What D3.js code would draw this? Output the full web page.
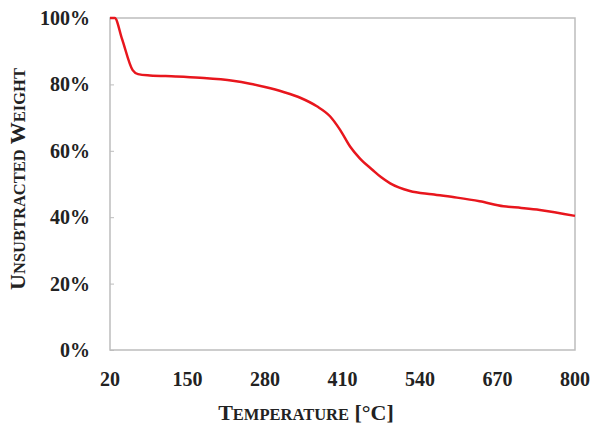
<!DOCTYPE html>
<html>
<head>
<meta charset="utf-8">
<style>
  body { margin: 0; background: #fff; }
  text { font-family: "Liberation Serif", "Times New Roman", serif; font-weight: bold; fill: #222; }
</style>
</head>
<body>
<svg width="595" height="432"></svg>
<script src="https://d3js.org/d3.v7.min.js"></script>
<script>

// temperature (°C) and unsubtracted weight (%)
var temps   = [20, 28, 40, 58, 67, 87, 130, 171, 226, 255, 280, 311, 340, 367, 389, 406, 423, 439, 460, 475, 490, 523, 560, 602, 640, 680, 710, 741, 800]
var weights = [100, 100, 93.8, 84.3, 83.1, 82.7, 82.4, 82.0, 81.1, 80.2, 79.2, 77.7, 75.9, 73.4, 70.4, 66.3, 61.2, 57.7, 54.3, 52.0, 50.2, 47.9, 46.9, 45.9, 44.8, 43.3, 42.8, 42.2, 40.4]

var xTicks = [20, 150, 280, 410, 540, 670, 800]
var yTicks = [0, 20, 40, 60, 80, 100]

var svg = d3.select('svg')
var margin = { top: 18, right: 20, bottom: 82, left: 110 }
var width = 595 - margin.left - margin.right
var height = 432 - margin.top - margin.bottom

var x = d3.scaleLinear().domain([20, 800]).range([0, width])
var y = d3.scaleLinear().domain([0, 100]).range([height, 0])

var g = svg.append('g').attr('transform', 'translate(' + margin.left + ',' + margin.top + ')')

// frame
g.append('rect')
  .attr('width', width).attr('height', height)
  .attr('fill', 'none').attr('stroke', '#bdbdbd').attr('stroke-width', 1.5)

// y axis: small inward ticks, labels on the left
var yAxis = d3.axisRight(y).tickValues(yTicks).tickSize(4).tickFormat('')
g.append('g').call(yAxis)
  .call(function (a) { a.select('.domain').remove() })
  .selectAll('line').attr('stroke', '#bdbdbd')

g.append('g').selectAll('text.ylab')
  .data(yTicks)
  .enter().append('text')
  .attr('class', 'ylab')
  .attr('x', -20)
  .attr('y', function (d) { return y(d) + 7 })
  .attr('text-anchor', 'end')
  .attr('font-size', 20)
  .text(function (d) { return d + '%' })

// x labels
g.append('g').selectAll('text.xlab')
  .data(xTicks)
  .enter().append('text')
  .attr('class', 'xlab')
  .attr('x', function (d) { return x(d) })
  .attr('y', height + 36)
  .attr('text-anchor', 'middle')
  .attr('font-size', 20)
  .text(function (d) { return d })

// curve
var line = d3.line()
  .x(function (d, i) { return x(temps[i]) })
  .y(function (d) { return y(d) })
  .curve(d3.curveMonotoneX)

g.append('path')
  .datum(weights)
  .attr('d', line)
  .attr('fill', 'none')
  .attr('stroke', '#e8161d')
  .attr('stroke-width', 2.5)

// axis titles in small caps
var xt = svg.append('text')
  .attr('x', 306).attr('y', 420)
  .attr('text-anchor', 'middle')
xt.append('tspan').attr('font-size', 22).text('T')
xt.append('tspan').attr('font-size', 16.5).text('EMPERATURE')
xt.append('tspan').attr('font-size', 22).text(' [°C]')

var yt = svg.append('text')
  .attr('transform', 'translate(25,179) rotate(-90)')
  .attr('text-anchor', 'middle')
yt.append('tspan').attr('font-size', 22).text('U')
yt.append('tspan').attr('font-size', 16.5).text('NSUBTRACTED')
yt.append('tspan').attr('font-size', 22).text(' W')
yt.append('tspan').attr('font-size', 16.5).text('EIGHT')

</script>
</body>
</html>
